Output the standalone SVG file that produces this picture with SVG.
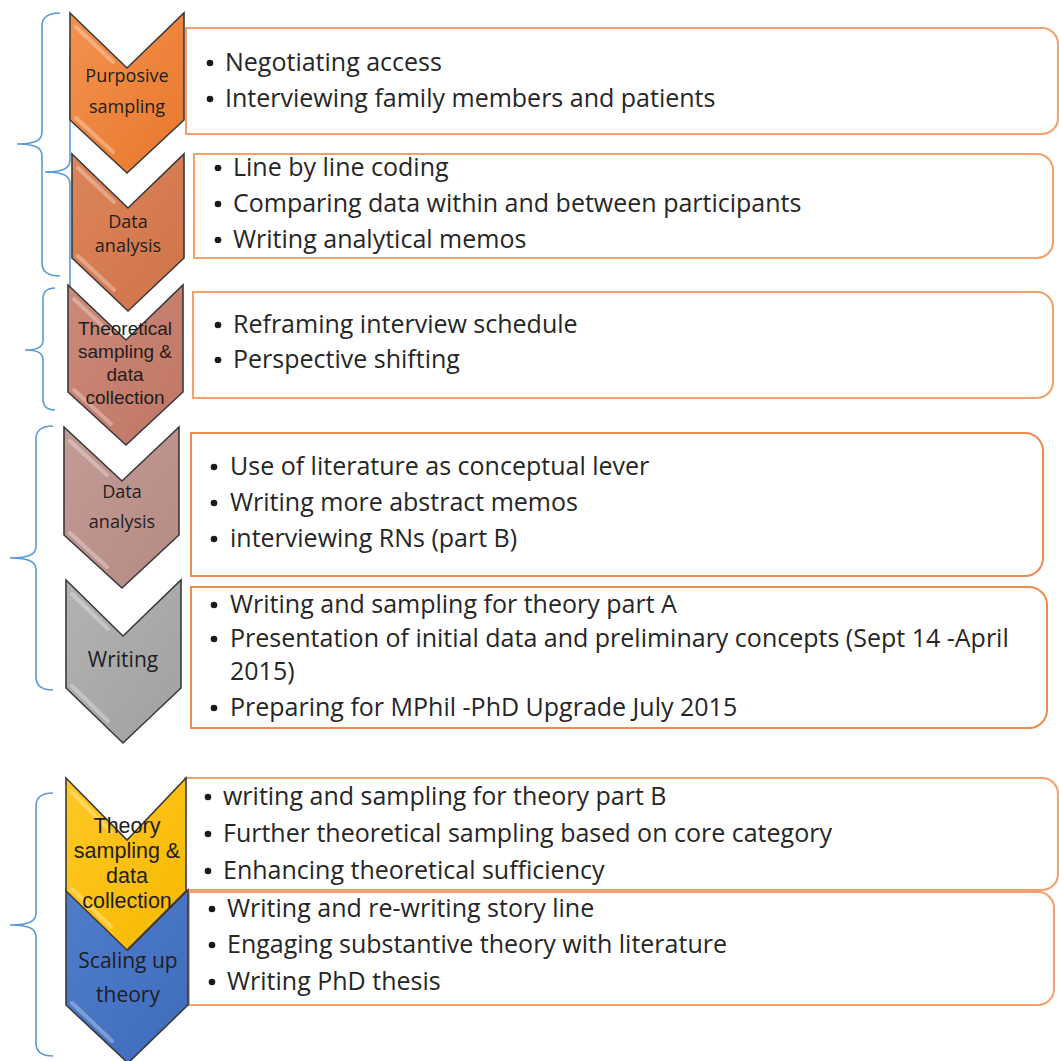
<svg xmlns="http://www.w3.org/2000/svg" width="1059" height="1061" viewBox="0 0 1059 1061">
<defs>
<linearGradient id="g1" x1="0" y1="0" x2="1" y2="1"><stop offset="0" stop-color="#F3924E"/><stop offset="1" stop-color="#E9772C"/></linearGradient>
<linearGradient id="g2" x1="0" y1="0" x2="1" y2="1"><stop offset="0" stop-color="#DC8559"/><stop offset="1" stop-color="#D0734A"/></linearGradient>
<linearGradient id="g3" x1="0" y1="0" x2="1" y2="1"><stop offset="0" stop-color="#CC8A79"/><stop offset="1" stop-color="#C07564"/></linearGradient>
<linearGradient id="g4" x1="0" y1="0" x2="1" y2="1"><stop offset="0" stop-color="#C39C95"/><stop offset="1" stop-color="#B58A83"/></linearGradient>
<linearGradient id="g5" x1="0" y1="0" x2="1" y2="1"><stop offset="0" stop-color="#B3B3B3"/><stop offset="1" stop-color="#A0A0A0"/></linearGradient>
<linearGradient id="g6" x1="0" y1="0" x2="1" y2="1"><stop offset="0" stop-color="#FFC824"/><stop offset="1" stop-color="#F7B800"/></linearGradient>
<linearGradient id="g7" x1="0" y1="0" x2="1" y2="1"><stop offset="0" stop-color="#4F7DCC"/><stop offset="1" stop-color="#3F6BBB"/></linearGradient>
<style>
.brace{fill:none;stroke:#5B9BD5;stroke-width:1.6}
.box{fill:#FFFFFF;stroke:#F3A06A;stroke-width:2}
.box2{fill:#FFFFFF;stroke:#EE8A4C;stroke-width:2}
.chev{stroke:#3A3A3A;stroke-width:1.6;stroke-linejoin:miter}
.hl{fill:none;stroke:#FFFFFF;stroke-opacity:0.3;stroke-width:4;stroke-linecap:round}
.lab{font-family:"Open Sans","Liberation Sans",sans-serif;font-size:18px;fill:#1E1E1E;text-anchor:middle}
.lab2{font-family:"Open Sans","Liberation Sans",sans-serif;font-size:21px;fill:#1E1E1E;text-anchor:middle}
.labt{font-family:"Liberation Sans","Open Sans",sans-serif;font-size:19px;fill:#1E1E1E;text-anchor:middle}
.labt2{font-family:"Liberation Sans","Open Sans",sans-serif;font-size:21.5px;fill:#1E1E1E;text-anchor:middle}
.item{font-family:"Open Sans","Liberation Sans",sans-serif;font-size:25px;fill:#262626}
.dot{fill:#1A1A1A}
</style>
</defs>
<rect width="1059" height="1061" fill="#FFFFFF"/>

<g id="connectors">
<path class="brace" d="M60,13 C50,13 42,16 42,26 L42,132 C42,140 36,144 17,144 C36,144 42,148 42,156 L42,263 C42,273 50,276 60,276"/>
<path class="brace" d="M88,40 C78,40 70,43 70,53 L70,160 C70,168 64,172 45,172 C64,172 70,176 70,184 L70,290 C70,300 78,303 88,303"/>
<path class="brace" d="M55,288 C48,288 43,291 43,299 L43,340 C43,347 38,350 25,350 C38,350 43,353 43,360 L43,399 C43,407 48,410 55,410"/>
<path class="brace" d="M53,426 C43,426 36,429 36,439 L36,546 C36,554 30,558 10,558 C30,558 36,562 36,570 L36,677 C36,687 43,690 53,690"/>
<path class="brace" d="M53,793 C43,793 36,796 36,806 L36,913 C36,921 30,925 10,925 C30,925 36,929 36,937 L36,1043 C36,1053 43,1056 53,1056"/>
</g>

<g id="box1"><path class="box" d="M186,28 H1042 A16,16 0 0 1 1058,44 V118 A16,16 0 0 1 1042,134 H186 Z"/>
<circle class="dot" cx="210" cy="63" r="3.3"/><circle class="dot" cx="210" cy="99" r="3.3"/>
<text class="item" x="225" y="71">Negotiating access</text>
<text class="item" x="225" y="107">Interviewing family members and patients</text></g>

<g id="box2"><path class="box" d="M194,154 H1037 A16,16 0 0 1 1053,170 V242 A16,16 0 0 1 1037,258 H194 Z"/>
<circle class="dot" cx="218" cy="168" r="3.3"/><circle class="dot" cx="218" cy="204" r="3.3"/><circle class="dot" cx="218" cy="240" r="3.3"/>
<text class="item" x="233" y="176">Line by line coding</text>
<text class="item" x="233" y="212">Comparing data within and between participants</text>
<text class="item" x="233" y="248">Writing analytical memos</text></g>

<g id="box3"><path class="box" d="M193,292 H1037 A16,16 0 0 1 1053,308 V382 A16,16 0 0 1 1037,398 H193 Z"/>
<circle class="dot" cx="218" cy="325" r="3.3"/><circle class="dot" cx="218" cy="360" r="3.3"/>
<text class="item" x="233" y="333">Reframing interview schedule</text>
<text class="item" x="233" y="368">Perspective shifting</text></g>

<g id="box4"><path class="box2" d="M191,433 H1025 A18,18 0 0 1 1043,451 V558 A18,18 0 0 1 1025,576 H191 Z"/>
<circle class="dot" cx="214" cy="467" r="3.3"/><circle class="dot" cx="214" cy="503" r="3.3"/><circle class="dot" cx="214" cy="539" r="3.3"/>
<text class="item" x="230" y="475">Use of literature as conceptual lever</text>
<text class="item" x="230" y="511">Writing more abstract memos</text>
<text class="item" x="230" y="547">interviewing RNs (part B)</text></g>

<g id="box5"><path class="box2" d="M191,587 H1029 A18,18 0 0 1 1047,605 V710 A18,18 0 0 1 1029,728 H191 Z"/>
<circle class="dot" cx="214" cy="605" r="3.3"/><circle class="dot" cx="214" cy="639" r="3.3"/><circle class="dot" cx="214" cy="708" r="3.3"/>
<text class="item" x="230" y="613">Writing and sampling for theory part A</text>
<text class="item" x="230" y="647">Presentation of initial data and preliminary concepts (Sept 14 -April</text>
<text class="item" x="230" y="680">2015)</text>
<text class="item" x="230" y="716">Preparing for MPhil -PhD Upgrade July 2015</text></g>

<g id="box6"><path class="box" d="M185,778 H1042 A16,16 0 0 1 1058,794 V874 A16,16 0 0 1 1042,890 H185 Z"/>
<circle class="dot" cx="208" cy="797" r="3.3"/><circle class="dot" cx="208" cy="834" r="3.3"/><circle class="dot" cx="208" cy="871" r="3.3"/>
<text class="item" x="223" y="805">writing and sampling for theory part B</text>
<text class="item" x="223" y="842">Further theoretical sampling based on core category</text>
<text class="item" x="223" y="879">Enhancing theoretical sufficiency</text></g>

<g id="box7"><path class="box" d="M189,892 H1038 A16,16 0 0 1 1054,908 V989 A16,16 0 0 1 1038,1005 H189 Z"/>
<circle class="dot" cx="212" cy="909" r="3.3"/><circle class="dot" cx="212" cy="945" r="3.3"/><circle class="dot" cx="212" cy="982" r="3.3"/>
<text class="item" x="227" y="917">Writing and re-writing story line</text>
<text class="item" x="227" y="953">Engaging substantive theory with literature</text>
<text class="item" x="227" y="990">Writing PhD thesis</text></g>

<g id="chevron1"><polygon class="chev" fill="url(#g1)" points="70,13 127,68 184,13 184,120 127,173 70,120"/>
<polyline class="hl" points="76,27 113,62"/><polyline class="hl" points="76,118 113,152"/>
<text class="lab" x="127" y="82">Purposive</text><text class="lab" x="127" y="113">sampling</text></g>

<g id="chevron2"><polygon class="chev" fill="url(#g2)" points="72,154 128,208 184,154 184,258 128,311 72,258"/>
<polyline class="hl" points="78,168 114,202"/><polyline class="hl" points="78,256 114,290"/>
<text class="lab" x="128" y="228">Data</text><text class="lab" x="128" y="252">analysis</text></g>

<g id="chevron3"><polygon class="chev" fill="url(#g3)" points="68,285 126,340 183,285 183,392 126,445 68,392"/>
<polyline class="hl" points="74,299 111,334"/><polyline class="hl" points="74,390 111,424"/>
<text class="labt" x="125" y="335">Theoretical</text><text class="labt" x="125" y="358">sampling &amp;</text><text class="labt" x="125" y="381">data</text><text class="labt" x="125" y="404">collection</text></g>

<g id="chevron4"><polygon class="chev" fill="url(#g4)" points="64,427 122,481 179,427 179,535 122,588 64,535"/>
<polyline class="hl" points="70,441 107,475"/><polyline class="hl" points="70,533 107,567"/>
<text class="lab" x="122" y="498">Data</text><text class="lab" x="122" y="528">analysis</text></g>

<g id="chevron5"><polygon class="chev" fill="url(#g5)" points="66,580 123,636 181,580 181,688 123,743 66,688"/>
<polyline class="hl" points="72,594 108,629"/><polyline class="hl" points="72,686 108,721"/>
<text class="lab2" x="123" y="667">Writing</text></g>

<g id="chevron7"><polygon class="chev" fill="url(#g7)" points="66,890 128,950 188,890 188,1005 128,1063 66,1005"/>
<polyline class="hl" points="72,1003 112,1041"/>
<text class="lab2" x="128" y="968">Scaling up</text><text class="lab2" x="128" y="1002">theory</text></g>

<g id="chevron6"><polygon class="chev" fill="url(#g6)" points="66,778 127,840 186,778 186,891 127,950 66,891"/>
<polyline class="hl" points="72,792 111,832"/><polyline class="hl" points="72,889 111,927"/>
<text class="labt2" x="127" y="833">Theory</text><text class="labt2" x="127" y="858">sampling &amp;</text><text class="labt2" x="127" y="883">data</text><text class="labt2" x="127" y="908">collection</text></g>
</svg>
